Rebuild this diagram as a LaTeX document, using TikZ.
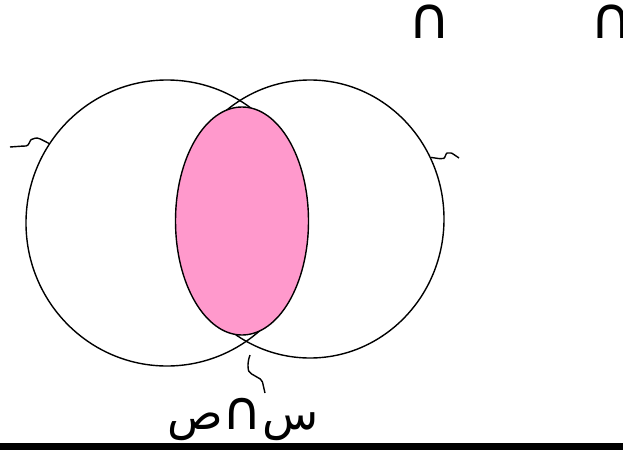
\documentclass[tikz,border=0pt]{standalone}
\usepackage{fontspec}
\setmainfont{DejaVu Sans}
\newfontfamily\arabicfont[Script=Arabic]{DejaVu Sans}
\TeXXeTstate=1
\usetikzlibrary{shapes.geometric}

\begin{document}
\begin{tikzpicture}[x=1pt, y=-1pt, set/.style={ellipse, draw, line width=1.4pt, inner sep=0pt}, lead/.style={line width=1.4pt, rounded corners=2pt}, sym/.style={inner sep=0pt, text height=30pt, text depth=0pt, font=\fontsize{58}{64}\selectfont}]
\useasboundingbox (0,0) rectangle (623,450);
\node[set, minimum width=282pt, minimum height=286pt] (A) at (167,223) {};
\node[set, minimum width=268pt, minimum height=278pt] (B) at (310,219) {};
\node[set, fill={rgb,255:red,255;green,153;blue,204}, minimum width=133pt, minimum height=228pt] (AB) at (242,221) {};
\node[sym, anchor=base] (capL) at (430,38) {∩};
\node[sym, anchor=base] (capR) at (612,38) {∩};
\node[inner sep=0pt, anchor=base, font=\arabicfont\fontsize{46}{52}\selectfont] (lbl) at (243,429) {\beginR س{\fontsize{54}{60}\selectfont ∩}ص\endR};
\coordinate (endA) at (10,147);
\coordinate (endB) at (459,158);
\coordinate (meet) at (250,355);
\coordinate (endM) at (265,393);
\draw[lead] (A.146) .. controls (42,140) and (38,137) .. (33,139) .. controls (30,140) and (29,146) .. (24,146) -- (endA);
\draw[lead] (B.27) -- (442,159) .. controls (445,158) and (446,153) .. (449,153) .. controls (452,153) and (456,156) .. (endB);
\draw[lead] (meet) .. controls (247,363) and (248,370) .. (250,373) -- (262,380) -- (endM);
\fill (0,443) rectangle (623,450);
\end{tikzpicture}
\end{document}
